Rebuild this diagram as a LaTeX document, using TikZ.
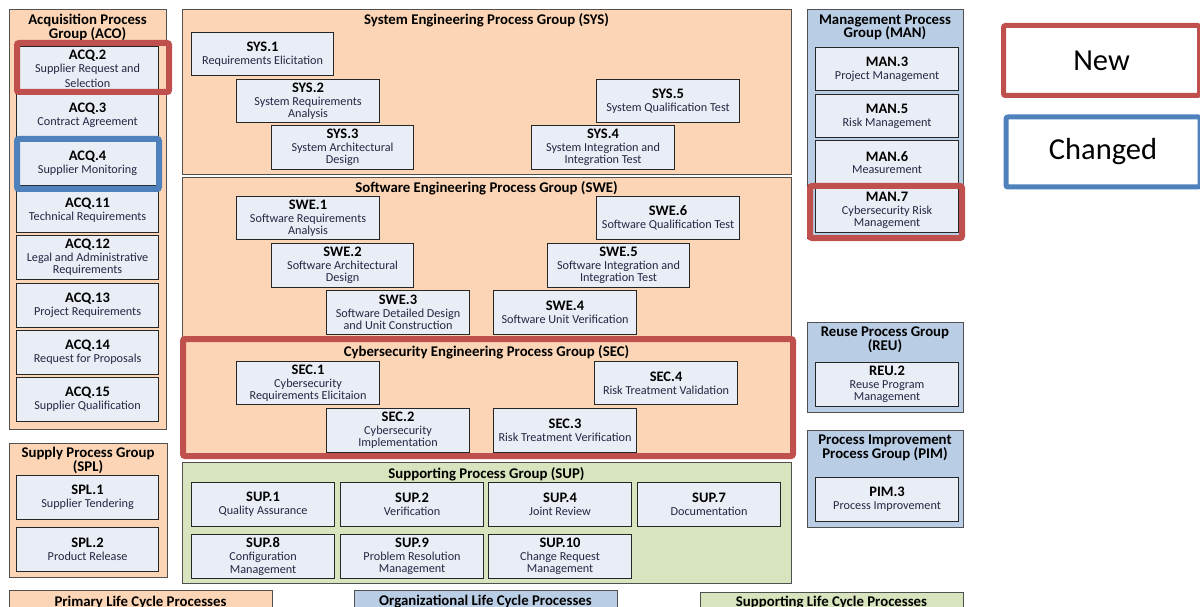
\documentclass[tikz,border=0pt]{standalone}
\usepackage{fontspec}
\setmainfont{Carlito}
\usetikzlibrary{shadows}
\definecolor{peach}{HTML}{FBD5B5}
\definecolor{bluegrp}{HTML}{B9CDE5}
\definecolor{greengrp}{HTML}{D7E4BD}
\definecolor{boxfill}{HTML}{E9EDF5}
\definecolor{grpline}{HTML}{505050}
\definecolor{boxline}{HTML}{262626}
\definecolor{hlred}{HTML}{C0504D}
\definecolor{hlblue}{HTML}{4F81BD}
\definecolor{dsctext}{HTML}{262644}
\newcommand{\ttlfont}{\fontsize{14.5}{15}\selectfont\bfseries\color{black}}
\newcommand{\dscfont}{\fontsize{12.2}{12.4}\selectfont}
\newcommand{\grpfont}{\fontsize{14.8}{13.6}\selectfont\bfseries}
\tikzset{
  grp/.style={draw=grpline, line width=1.2pt, fill=peach, anchor=north west, inner sep=0pt},
  gtitle/.style={font=\grpfont, align=center, inner sep=0pt, text=black},
  pbox/.style={draw=boxline, line width=1.1pt, fill=boxfill, anchor=north west, inner sep=0pt,
               align=center, font=\dscfont, text=dsctext},
  newframe/.style={draw=hlred, line width=6pt, rounded corners=2pt},
  chgframe/.style={draw=hlblue, line width=6pt, rounded corners=2pt},
  legendbox/.style={fill=white, line width=5pt, rounded corners=2pt, anchor=north west, inner sep=0pt,
                    font=\fontsize{30.5}{32}\selectfont,
                    drop shadow={opacity=0.35, shadow xshift=2pt, shadow yshift=-2pt}},
}
\newcommand{\pbx}[7]{\node[pbox, minimum width=#4pt, minimum height=#5pt] (#1) at (#2,#3) {{\ttlfont #6}\\[0.5pt]#7};}
\begin{document}
\begin{tikzpicture}[x=1pt, y=-1pt]
\useasboundingbox (0,0) rectangle (1200,607);
\clip (0,0) rectangle (1200,607);
\fill[white] (0,0) rectangle (1200,607);

% ---------- Acquisition ----------
\node[grp, minimum width=157pt, minimum height=420pt] (aco) at (9,9) {};
\node[gtitle] (acot) at (87.5,27.5) {Acquisition Process\\Group (ACO)};
\pbx{acq2}{16}{46}{142}{44}{ACQ.2}{Supplier Request and\\[3pt]Selection}
\pbx{acq3}{16}{93}{142}{44}{ACQ.3}{Contract Agreement}
\pbx{acq4}{16}{141}{142}{44}{ACQ.4}{Supplier Monitoring}
\pbx{acq11}{16}{188}{142}{44}{ACQ.11}{Technical Requirements}
\pbx{acq12}{16}{235}{142}{44}{ACQ.12}{Legal and Administrative\\Requirements}
\pbx{acq13}{16}{283}{142}{44}{ACQ.13}{Project Requirements}
\pbx{acq14}{16}{330}{142}{44}{ACQ.14}{Request for Proposals}
\pbx{acq15}{16}{377}{142}{44}{ACQ.15}{Supplier Qualification}

% ---------- Supply ----------
\node[grp, minimum width=158pt, minimum height=134pt] (spl) at (9,443) {};
\node[gtitle] (splt) at (88,460.5) {Supply Process Group\\(SPL)};
\pbx{spl1}{16}{475}{142}{44}{SPL.1}{Supplier Tendering}
\pbx{spl2}{16}{527}{142}{44}{SPL.2}{Product Release}

% ---------- System Engineering ----------
\node[grp, minimum width=609pt, minimum height=165pt] (sys) at (182,9) {};
\node[gtitle] (syst) at (486.5,20) {System Engineering Process Group (SYS)};
\pbx{sys1}{191}{32}{142}{43}{SYS.1}{Requirements Elicitation}
\pbx{sys2}{236}{79}{143}{43}{SYS.2}{System Requirements\\Analysis}
\pbx{sys3}{271}{125}{142}{44}{SYS.3}{System Architectural\\Design}
\pbx{sys5}{596}{79}{143}{43}{SYS.5}{System Qualification Test}
\pbx{sys4}{531}{125}{143}{44}{SYS.4}{System Integration and\\Integration Test}

% ---------- Software Engineering ----------
\node[grp, minimum width=609pt, minimum height=160pt] (swe) at (182,177) {};
\node[gtitle] (swet) at (486.5,188) {Software Engineering Process Group (SWE)};
\pbx{swe1}{236}{196}{143}{43}{SWE.1}{Software Requirements\\Analysis}
\pbx{swe6}{596}{196}{143}{43}{SWE.6}{Software Qualification Test}
\pbx{swe2}{271}{243}{142}{44}{SWE.2}{Software Architectural\\Design}
\pbx{swe5}{547}{243}{142}{44}{SWE.5}{Software Integration and\\Integration Test}
\pbx{swe3}{326}{290}{143}{44}{SWE.3}{Software Detailed Design\\and Unit Construction}
\pbx{swe4}{493}{290}{143}{44}{SWE.4}{Software Unit Verification}

% ---------- Cybersecurity Engineering ----------
\node[grp, minimum width=609pt, minimum height=117pt] (sec) at (182,339) {};
\node[gtitle] (sect) at (486.5,352) {Cybersecurity Engineering Process Group (SEC)};
\pbx{sec1}{236}{361}{143}{43}{SEC.1}{Cybersecurity\\Requirements Elicitaion}
\pbx{sec4}{594}{361}{143}{43}{SEC.4}{Risk Treatment Validation}
\pbx{sec2}{326}{408}{143}{44}{SEC.2}{Cybersecurity\\Implementation}
\pbx{sec3}{493}{408}{143}{44}{SEC.3}{Risk Treatment Verification}

% ---------- Supporting ----------
\node[grp, fill=greengrp, minimum width=609pt, minimum height=121pt] (sup) at (182,462) {};
\node[gtitle] (supt) at (486.5,474) {Supporting Process Group (SUP)};
\pbx{sup1}{191}{482}{143}{44}{SUP.1}{Quality Assurance}
\pbx{sup2}{340}{482}{143}{44}{SUP.2}{Verification}
\pbx{sup4}{488}{482}{143}{44}{SUP.4}{Joint Review}
\pbx{sup7}{637}{482}{143}{44}{SUP.7}{Documentation}
\pbx{sup8}{191}{534}{143}{44}{SUP.8}{Configuration\\Management}
\pbx{sup9}{340}{534}{143}{44}{SUP.9}{Problem Resolution\\Management}
\pbx{sup10}{488}{534}{143}{44}{SUP.10}{Change Request\\Management}

% ---------- Management ----------
\node[grp, fill=bluegrp, minimum width=156pt, minimum height=229pt] (man) at (807,9) {};
\node[gtitle] (mant) at (885,27.5) {Management Process\\Group (MAN)};
\pbx{man3}{815}{47}{143}{43}{MAN.3}{Project Management}
\pbx{man5}{815}{94}{143}{43}{MAN.5}{Risk Management}
\pbx{man6}{815}{140}{143}{44}{MAN.6}{Measurement}
\pbx{man7}{815}{188}{143}{44}{MAN.7}{Cybersecurity Risk\\Management}

% ---------- Reuse ----------
\node[grp, fill=bluegrp, minimum width=156pt, minimum height=90pt] (reu) at (807,322) {};
\node[gtitle] (reut) at (885,340) {Reuse Process Group\\(REU)};
\pbx{reu2}{815}{362}{143}{44}{REU.2}{Reuse Program\\Management}

% ---------- Process Improvement ----------
\node[grp, fill=bluegrp, minimum width=156pt, minimum height=97pt] (pim) at (807,430) {};
\node[gtitle] (pimt) at (885,448) {Process Improvement\\Process Group (PIM)};
\pbx{pim3}{815}{477}{143}{44}{PIM.3}{Process Improvement}

% ---------- Bottom category labels ----------
\node[grp, minimum width=263pt, minimum height=30pt] (plc) at (9,590) {};
\node[gtitle] (plct) at (140.5,602) {Primary Life Cycle Processes};
\node[grp, fill=bluegrp, minimum width=263pt, minimum height=30pt] (olc) at (354,590) {};
\node[gtitle] (olct) at (485.5,602) {Organizational Life Cycle Processes};
\node[grp, fill=greengrp, minimum width=263pt, minimum height=30pt] (slc) at (700,592) {};
\node[gtitle] (slct) at (831.5,603) {Supporting Life Cycle Processes};

% ---------- Highlight frames ----------
\draw[newframe] (17,43) rectangle (169,92);
\draw[chgframe] (17,139) rectangle (159,189);
\draw[newframe] (183,339) rectangle (793,456);
\draw[newframe] (810,186) rectangle (962,238);

% ---------- Legend ----------
\node[legendbox, draw=hlred, minimum width=196pt, minimum height=70pt] (newl) at (1001,23) {New};
\node[legendbox, draw=hlblue, minimum width=194pt, minimum height=70pt] (chgl) at (1003.5,114.5) {Changed};
\end{tikzpicture}
\end{document}
